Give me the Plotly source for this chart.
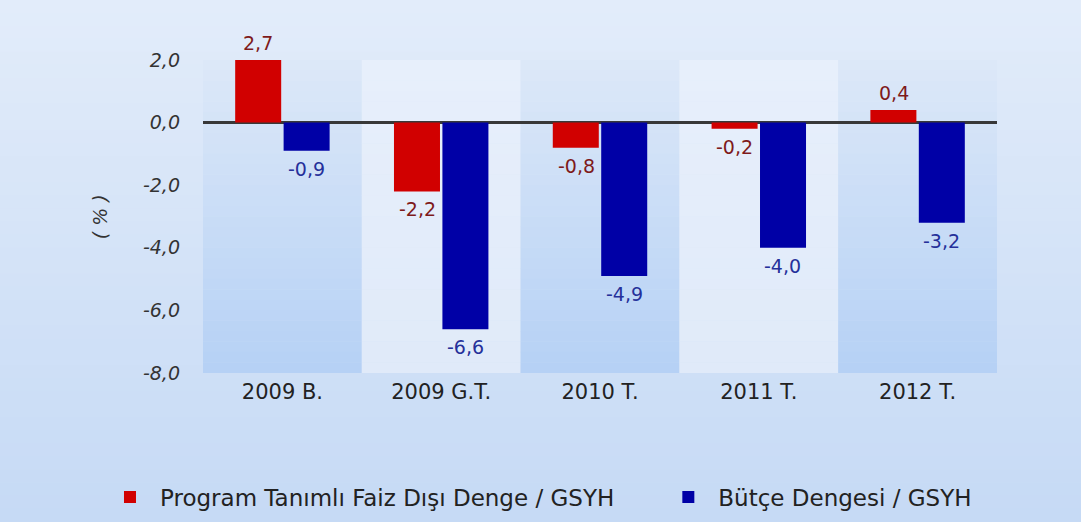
import plotly.graph_objects as go

categories = ["2009 B.", "2009 G.T.", "2010 T.", "2011 T.", "2012 T."]
faiz_disi_denge = [2.7, -2.2, -0.8, -0.2, 0.4]
butce_dengesi = [-0.9, -6.6, -4.9, -4.0, -3.2]
series_names = ["Program Tanımlı Faiz Dışı Denge / GSYH", "Bütçe Dengesi / GSYH"]
y_ticks = [2, 0, -2, -4, -6, -8]
y_range = [-8, 2]

W, H = 1081, 522
L, R, T, B = 203, 84, 60, 149
FONT = "DejaVu Sans, Verdana, Arial, sans-serif"
RED, BLUE = "#d10000", "#0000a6"
RED_TXT, BLUE_TXT = "#7e1a1a", "#25309a"


def hex2rgb(h):
    h = h.lstrip("#")
    return tuple(int(h[i:i + 2], 16) for i in (0, 2, 4))


def mix(c1, c2, t):
    a, b = hex2rgb(c1), hex2rgb(c2)
    return "rgb(%d,%d,%d)" % tuple(round(a[i] + (b[i] - a[i]) * t) for i in range(3))


def fmt(v):
    return f"{v:.1f}".replace(".", ",")


fig = go.Figure()
fig.add_trace(go.Bar(x=categories, y=faiz_disi_denge, name=series_names[0],
                     marker=dict(color=RED, line=dict(width=0)), cliponaxis=True,
                     legend="legend"))
fig.add_trace(go.Bar(x=categories, y=butce_dengesi, name=series_names[1],
                     marker=dict(color=BLUE, line=dict(width=0)), cliponaxis=True,
                     legend="legend2"))

shapes = []
# paper background gradient
N = 40
py0, py1 = -B / (H - T - B), 1 + T / (H - T - B)
px0, px1 = -L / (W - L - R), 1 + R / (W - L - R)
for k in range(N):
    t = k / (N - 1)
    ya = py1 - (py1 - py0) * k / N
    yb = py1 - (py1 - py0) * (k + 1) / N
    shapes.append(dict(type="rect", xref="paper", yref="paper", x0=px0, x1=px1,
                       y0=yb, y1=ya + 0.002, line=dict(width=0),
                       fillcolor=mix("#e2ecfa", "#c6daf5", t), layer="below"))
# column bands
NB = 30
for i in range(len(categories)):
    if i % 2 == 0:
        top_c, bot_c = "#dce8f8", "#b6d1f5"
    else:
        top_c, bot_c = "#e7effb", "#e0eaf9"
    for k in range(NB):
        t = k / (NB - 1)
        ya = y_range[1] - (y_range[1] - y_range[0]) * k / NB
        yb = y_range[1] - (y_range[1] - y_range[0]) * (k + 1) / NB
        shapes.append(dict(type="rect", xref="x", yref="y", x0=i - 0.5, x1=i + 0.5,
                           y0=yb, y1=ya + 0.01, line=dict(width=0),
                           fillcolor=mix(top_c, bot_c, t), layer="below"))

annotations = []
for series, dx, col in ((faiz_disi_denge, -24, RED_TXT), (butce_dengesi, 24, BLUE_TXT)):
    for cat, v in zip(categories, series):
        yv = min(max(v, y_range[0]), y_range[1])
        annotations.append(dict(x=cat, y=yv, xref="x", yref="y", text=fmt(v),
                                showarrow=False, xshift=dx,
                                yshift=17 if v >= 0 else -18,
                                font=dict(family=FONT, size=19, color=col)))
annotations.append(dict(x=-0.13, y=0.5, xref="paper", yref="paper", text="( % )",
                        textangle=-90, showarrow=False, xanchor="center", yanchor="middle",
                        font=dict(family=FONT, size=19, color="#333333", style="italic")))

legend_common = dict(orientation="h", xref="container", yref="container",
                     xanchor="left", y=0.048, yanchor="middle",
                     font=dict(family=FONT, size=23, color="#222222"),
                     bgcolor="rgba(0,0,0,0)", itemwidth=50)

fig.update_layout(
    width=W, height=H,
    margin=dict(l=L, r=R, t=T, b=B, autoexpand=False),
    paper_bgcolor="#d4e3f8",
    plot_bgcolor="rgba(0,0,0,0)",
    separators=",.",
    barmode="group", bargap=0.39, bargroupgap=0.05,
    shapes=shapes, annotations=annotations,
    showlegend=True,
    legend=dict(x=0.0925, **legend_common),
    legend2=dict(x=0.609, **legend_common),
    xaxis=dict(showgrid=False, showline=False, ticks="",
               tickfont=dict(family=FONT, size=21, color="#222222"),
               ticklabelstandoff=4),
    yaxis=dict(range=y_range, tickvals=y_ticks, ticktext=[fmt(v) for v in y_ticks],
               showgrid=False, showline=False, ticks="",
               zeroline=True, zerolinecolor="#383838", zerolinewidth=3,
               tickfont=dict(family=FONT, size=19, color="#333333", style="italic"),
               ticklabelstandoff=22),
)

fig.write_html("out.html", config={"displayModeBar": False},
               post_script="document.body.style.margin='0';document.body.style.overflow='hidden';")
